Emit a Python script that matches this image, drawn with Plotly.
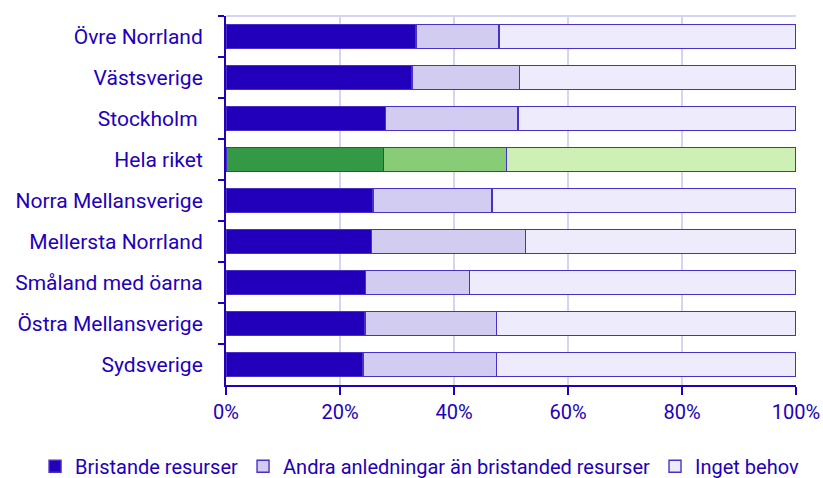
import plotly.graph_objects as go

categories = ["Övre Norrland", "Västsverige", "Stockholm ", "Hela riket", "Norra Mellansverige",
              "Mellersta Norrland", "Småland med öarna", "Östra Mellansverige", "Sydsverige"]
bristande = [33.3, 32.6, 28.0, 27.6, 25.8, 25.5, 24.5, 24.4, 24.0]
andra = [14.6, 18.9, 23.2, 21.6, 20.9, 27.0, 18.2, 23.1, 23.5]
inget = [round(100 - b - a, 1) for b, a in zip(bristande, andra)]
series_names = ["Bristande resurser", "Andra anledningar än bristanded resurser", "Inget behov"]
x_ticks = [0, 20, 40, 60, 80, 100]
x_ticktext = ["0%", "20%", "40%", "60%", "80%", "100%"]
highlight = "Hela riket"

blue_cols = ["#2200BB", "#D2CDF0", "#EDEBFC"]
green_cols = ["#339944", "#88CC77", "#CFF0B4"]
text_col = "#2200BB"
edge_col = "#4A2FC8"

fig = go.Figure()
for i, (name, vals) in enumerate(zip(series_names, [bristande, andra, inget])):
    colors = [green_cols[i] if c == highlight else blue_cols[i] for c in categories]
    fig.add_trace(go.Bar(
        y=categories, x=vals, name=name, orientation="h",
        marker=dict(color=colors, line=dict(color=edge_col, width=1.4)),
        hoverinfo="x+y+name",
    ))

fig.update_layout(
    barmode="stack",
    bargap=0.42,
    width=823, height=478,
    margin=dict(l=226, r=27, t=16, b=93, autoexpand=False),
    paper_bgcolor="white", plot_bgcolor="white",
    font=dict(family="Roboto", size=19, color=text_col),
    legend=dict(orientation="h", x=-0.335, xanchor="left",
                yref="paper", y=-0.22, yanchor="middle",
                font=dict(family="Roboto", size=20),
                itemwidth=30, tracegroupgap=0, traceorder="normal"),
    xaxis=dict(range=[0, 100], tickvals=x_ticks, ticktext=x_ticktext, showgrid=True,
               gridcolor="#D6D4F0", gridwidth=2, zeroline=False, automargin=False,
               showline=True, linecolor=text_col, linewidth=2,
               ticks="outside", ticklen=8, tickwidth=2, tickcolor=text_col,
               tickfont=dict(family="Roboto", size=20, color=text_col)),
    yaxis=dict(autorange="reversed", showgrid=False, showline=True, linecolor=text_col, linewidth=2,
               automargin=False,
               ticks="outside", tickson="boundaries", ticklen=6, tickwidth=2, tickcolor=text_col,
               ticklabelstandoff=17, tickfont=dict(size=21, color=text_col)),
    shapes=[dict(type="line", xref="paper", yref="paper", x0=0, x1=1, y0=1, y1=1,
                 line=dict(color="#D6D4F0", width=2), layer="below")],
)

fig.write_html("out.html", config={"displayModeBar": False},
               post_script="document.body.style.margin='0';")
